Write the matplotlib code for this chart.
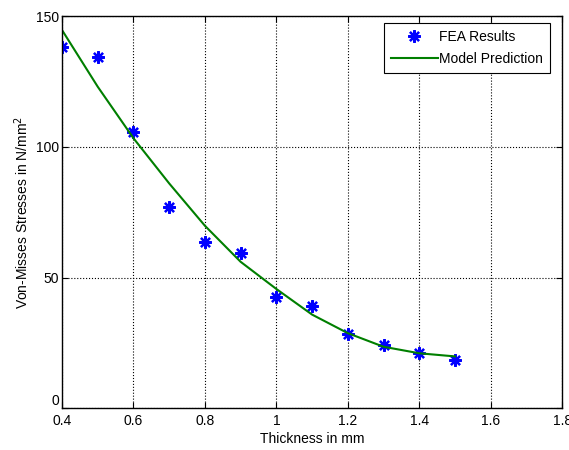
import numpy as np
import matplotlib.pyplot as plt

plt.rcParams['font.family'] = ['Liberation Sans', 'DejaVu Sans']

# FEA results
thickness = [0.4, 0.5, 0.6, 0.7, 0.8, 0.9, 1.0, 1.1, 1.2, 1.3, 1.4, 1.5]
fea = [138.2, 134.3, 105.6, 76.9, 63.5, 59.3, 42.5, 39.0, 28.3, 24.1, 21.0, 18.4]
# model prediction curve
model = [144.7, 123.0, 103.3, 86.0, 69.8, 56.0, 45.6, 35.8, 28.7, 23.5, 21.0, 19.8]

fig = plt.figure(figsize=(5.69, 4.5), dpi=100)
ax = fig.add_axes([0.109, 0.093, 0.879, 0.871])

ax.plot(thickness, fea, linestyle='none', marker=(8, 2, 0), color='blue',
        markersize=9, markeredgewidth=1.6, label='FEA Results')
ax.plot(thickness, model, color='#007f00', linewidth=1.5, label='Model Prediction')

ax.set_xlim(0.4, 1.8)
ax.set_ylim(0, 150)
ax.set_xticks(np.arange(0.4, 1.81, 0.2))
ax.set_xticklabels(['0.4', '0.6', '0.8', '1', '1.2', '1.4', '1.6', '1.8'])
ax.set_yticks([0, 50, 100, 150])
ax.tick_params(direction='in', top=True, right=True, labelsize=10, length=4, pad=2)
ax.tick_params(axis='x', pad=4)
ax.get_yticklabels()[0].set_verticalalignment('bottom')
ax.grid(True, linestyle=':', color='black', linewidth=0.8)
for s in ax.spines.values():
    s.set_linewidth(1.0)

ax.set_xlabel('Thickness in mm', fontsize=10, labelpad=3)
ax.set_ylabel('Von-Misses Stresses in N/mm$^2$', fontsize=10, labelpad=4)

leg = ax.legend(loc='upper right', fontsize=10, fancybox=False, framealpha=1,
                edgecolor='black', borderaxespad=0.5, handlelength=3.4,
                borderpad=0.5, labelspacing=0.55, handletextpad=0.1,
                bbox_to_anchor=(0.99, 1.0))
leg.get_frame().set_linewidth(0.8)

fig.savefig('out.png', dpi=100)
